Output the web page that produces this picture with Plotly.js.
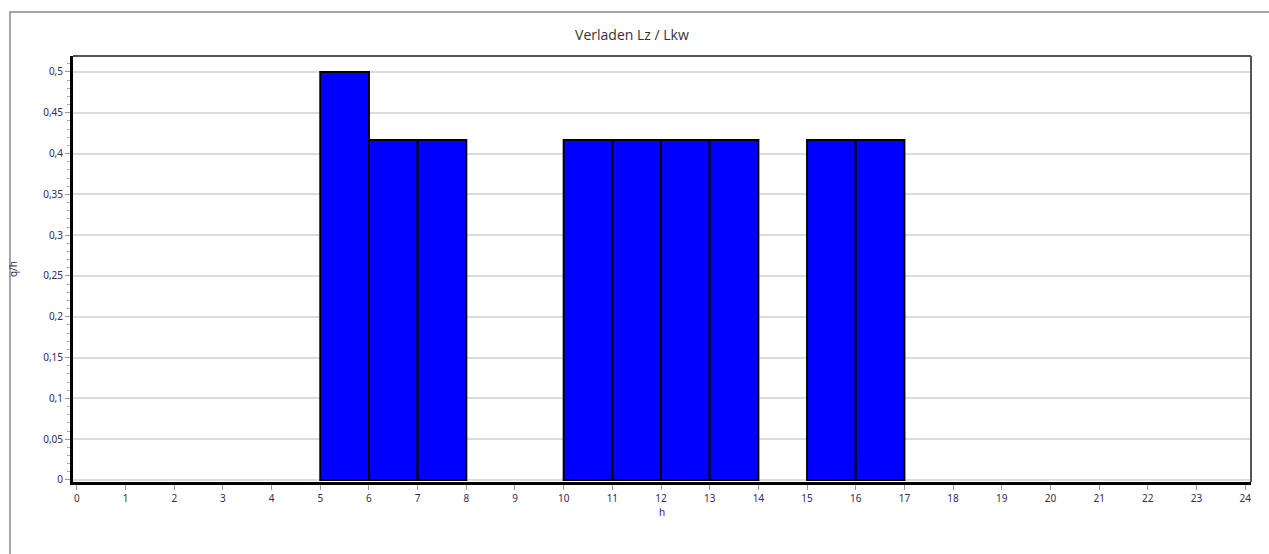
<!DOCTYPE html>
<html>
<head>
<meta charset="utf-8">
<script src="https://cdn.plot.ly/plotly-3.0.1.min.js"></script>
<style>
html,body{margin:0;padding:0;background:#fff;}
#chart{width:1269px;height:554px;}
</style>
</head>
<body>
<div id="chart"></div>
<script>
// Data
const hours = [0,1,2,3,4,5,6,7,8,9,10,11,12,13,14,15,16,17,18,19,20,21,22,23];
const values = [0,0,0,0,0,0.5,0.4167,0.4167,0,0,0.4167,0.4167,0.4167,0.4167,0,0.4167,0.4167,0,0,0,0,0,0,0];
const xTickVals = [0,1,2,3,4,5,6,7,8,9,10,11,12,13,14,15,16,17,18,19,20,21,22,23,24];
const yTickVals = [0,0.05,0.1,0.15,0.2,0.25,0.3,0.35,0.4,0.45,0.5];
const yTickText = ["0","0,05","0,1","0,15","0,2","0,25","0,3","0,35","0,4","0,45","0,5"];
const titleText = "Verladen Lz / Lkw";
const xTitle = "h";
const yTitle = "q/h";

const tickFont = {family: "Noto Sans, DejaVu Sans, sans-serif", size: 10, color: "#35285c"};

const trace = {
  type: "bar",
  x: hours,
  y: values,
  width: 1,
  offset: 0,
  marker: {color: "#0000ff", line: {color: "#000000", width: values.map(v => v > 0 ? 2 : 0)}},
  hoverinfo: "x+y"
};

const layout = {
  width: 1269,
  height: 554,
  margin: {l: 73, r: 18, t: 56, b: 72},
  paper_bgcolor: "#ffffff",
  plot_bgcolor: "#ffffff",
  showlegend: false,
  bargap: 0,
  title: {
    text: titleText,
    font: {family: "Open Sans, Noto Sans, sans-serif", size: 14, color: "#333333"},
    x: 0.498, xanchor: "center", y: 0.937, yanchor: "middle"
  },
  xaxis: {
    range: [-0.08, 24.12],
    tickvals: xTickVals,
    ticktext: xTickVals.map(String),
    ticks: "outside", ticklen: 5, tickwidth: 1, tickcolor: "#999999",
    tickfont: tickFont,
    showgrid: false, zeroline: false,
    showline: true, linecolor: "#000000", linewidth: 3,
    title: {text: xTitle, font: {family: "Noto Sans, sans-serif", size: 10, color: "#35285c"}, standoff: 4},
    fixedrange: true
  },
  yaxis: {
    range: [-0.0025, 0.5196],
    tickvals: yTickVals,
    ticktext: yTickText,
    ticks: "outside", ticklen: 5, tickwidth: 1, tickcolor: "#999999",
    tickfont: tickFont,
    showgrid: true, gridcolor: "#dcdcdc", gridwidth: 2,
    zeroline: false,
    showline: true, linecolor: "#000000", linewidth: 3,
    minor: {dtick: 0.01, ticks: "outside", ticklen: 3, tickcolor: "#aaaaaa", showgrid: false},
    title: {text: yTitle, font: {family: "Noto Sans, sans-serif", size: 10, color: "#35285c"}, standoff: 24},
    fixedrange: true
  },
  shapes: [
    {type: "rect", xref: "paper", yref: "paper", x0: -0.0535, x1: 1.05, y0: -0.3, y1: 1.1033,
     line: {color: "#a6a6a6", width: 2}, fillcolor: "rgba(0,0,0,0)", layer: "below"},
    {type: "line", xref: "paper", yref: "paper", x0: 0, x1: 1, y0: 1, y1: 1,
     line: {color: "#555555", width: 2}},
    {type: "line", xref: "paper", yref: "paper", x0: 1, x1: 1, y0: 0, y1: 1,
     line: {color: "#555555", width: 2}}
  ]
};

Plotly.newPlot("chart", [trace], layout, {displayModeBar: false, staticPlot: true});
</script>
</body>
</html>
